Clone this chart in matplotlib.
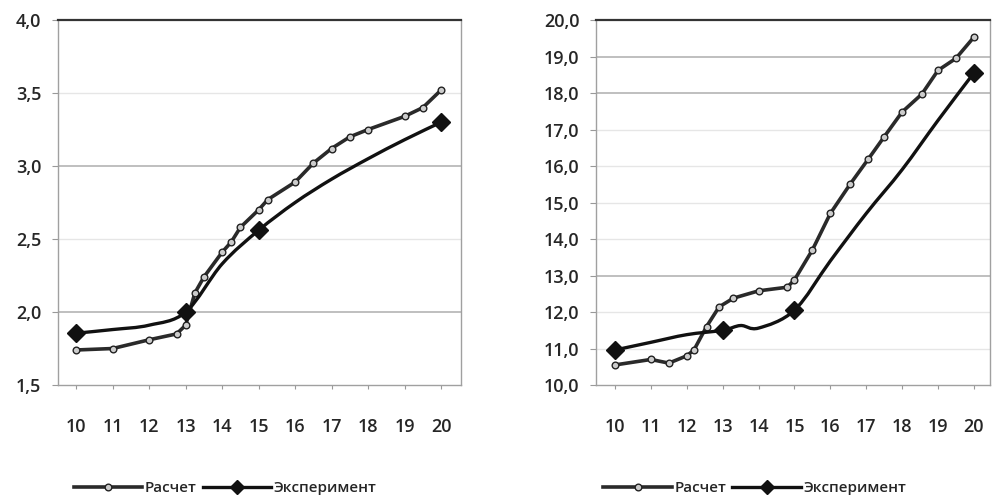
import matplotlib
matplotlib.use("Agg")
import matplotlib.pyplot as plt
import numpy as np
from matplotlib.path import Path
from matplotlib.patches import PathPatch
from matplotlib.lines import Line2D
from matplotlib.ticker import FuncFormatter, MultipleLocator

plt.rcParams['font.family'] = ['Open Sans', 'DejaVu Sans']

# левый график
calc_x_l = [10, 11, 12, 12.75, 13, 13.25, 13.5, 14, 14.25, 14.5, 15, 15.25,
            16, 16.5, 17, 17.5, 18, 19, 19.5, 20]
calc_y_l = [1.74, 1.75, 1.81, 1.85, 1.91, 2.13, 2.24, 2.41, 2.48, 2.58, 2.70, 2.77,
            2.89, 3.02, 3.12, 3.20, 3.25, 3.34, 3.40, 3.52]
exp_x_l = [10, 11, 12, 13, 14, 15, 16, 17, 18, 19, 20]
exp_y_l = [1.855, 1.88, 1.91, 2.0, 2.33, 2.56, 2.75, 2.91, 3.05, 3.18, 3.30]

# правый график
calc_x_r = [10, 11, 11.5, 12, 12.2, 12.55, 12.9, 13.3, 14, 14.8, 15, 15.5,
            16, 16.55, 17.05, 17.5, 18, 18.55, 19, 19.5, 20]
calc_y_r = [10.55, 10.7, 10.6, 10.8, 10.96, 11.6, 12.14, 12.38, 12.58, 12.68, 12.88, 13.7,
            14.7, 15.5, 16.18, 16.8, 17.48, 17.97, 18.62, 18.95, 19.53]
exp_x_r = [10, 11, 12, 13, 13.5, 14, 15, 16, 17, 18, 19, 20]
exp_y_r = [10.96, 11.17, 11.38, 11.5, 11.63, 11.56, 12.05, 13.4, 14.7, 15.9, 17.25, 18.55]

# точки эксперимента, отмеченные ромбами
exp_marks_l = [0, 3, 5, 10]
exp_marks_r = [0, 3, 6, 11]

x_ticks = list(range(10, 21))

TXT = '#262626'


def smooth_path(xs, ys):
    # сглаженная линия как в Excel (кривые Безье)
    p = np.column_stack([xs, ys]).astype(float)
    n = len(p)
    verts = [p[0]]
    codes = [Path.MOVETO]
    for i in range(n - 1):
        p0 = p[i - 1] if i > 0 else p[i]
        p1, p2 = p[i], p[i + 1]
        p3 = p[i + 2] if i + 2 < n else p[i + 1]
        verts += [p1 + (p2 - p0) / 6, p2 - (p3 - p1) / 6, p2]
        codes += [Path.CURVE4] * 3
    return Path(verts, codes)


def draw(ax, cx, cy, ex, ey, marks, ylim, ystep, strong, faint):
    for v in faint:
        ax.axhline(v, color='#e6e6e6', lw=1, zorder=0)
    for v in strong:
        ax.axhline(v, color='#b4b4b4', lw=1.2, zorder=0)

    ax.plot(cx, cy, '-', color='#2a2a2a', lw=2.6, marker='o', ms=4.8,
            mfc='#cccccc', mec='#222222', mew=1, zorder=3)
    ax.add_patch(PathPatch(smooth_path(ex, ey), fc='none', ec='#111111',
                           lw=2.4, zorder=4))
    ax.plot([ex[i] for i in marks], [ey[i] for i in marks], 'D',
            color='#111111', ms=9.5, zorder=5)

    ax.set_ylim(*ylim)
    ax.yaxis.set_major_locator(MultipleLocator(ystep))
    ax.yaxis.set_major_formatter(FuncFormatter(lambda v, p: f'{v:.1f}'.replace('.', ',')))
    ax.set_xticks(x_ticks)
    ax.tick_params(axis='y', length=4, color='#999999', pad=8, labelsize=13, labelcolor=TXT)
    ax.tick_params(axis='x', length=3, color='#999999', pad=21, labelsize=13, labelcolor=TXT)
    for lab in ax.get_xticklabels() + ax.get_yticklabels():
        lab.set_fontweight('semibold')
    for s in ('left', 'right', 'bottom'):
        ax.spines[s].set_color('#a0a0a0')
        ax.spines[s].set_linewidth(1)
    ax.spines['top'].set_color('#333333')
    ax.spines['top'].set_linewidth(1.6)


fig = plt.figure(figsize=(9.92, 5.01), dpi=100)
ax1 = fig.add_axes([0.0585, 0.2315, 0.4063, 0.7285])
ax2 = fig.add_axes([0.6008, 0.2315, 0.3972, 0.7285])

draw(ax1, calc_x_l, calc_y_l, exp_x_l, exp_y_l, exp_marks_l, (1.5, 4.0), 0.5,
     strong=[2.0, 3.0], faint=[2.5, 3.5])
ax1.set_xlim(9.5, 20.55)
draw(ax2, calc_x_r, calc_y_r, exp_x_r, exp_y_r, exp_marks_r, (10.0, 20.0), 1.0,
     strong=[13, 18, 19], faint=[11, 12, 14, 15, 16, 17])
ax2.set_xlim(9.47, 20.45)

handles = [
    Line2D([], [], color='#2a2a2a', lw=2.6, marker='o', ms=4.8,
           mfc='#cccccc', mec='#222222', mew=1),
    Line2D([], [], color='#111111', lw=2.4, marker='D', ms=7),
]
labels = ['Расчет', 'Эксперимент']
for cx in (0.227, 0.761):
    leg = fig.legend(handles, labels, loc='center', bbox_to_anchor=(cx, 0.025), ncol=2,
                     frameon=False, fontsize=11, handlelength=4.5, handletextpad=0.15,
                     columnspacing=0.4, numpoints=1, labelcolor=TXT)
    for t in leg.get_texts():
        t.set_fontweight('semibold')

fig.savefig('out.png', dpi=100)
